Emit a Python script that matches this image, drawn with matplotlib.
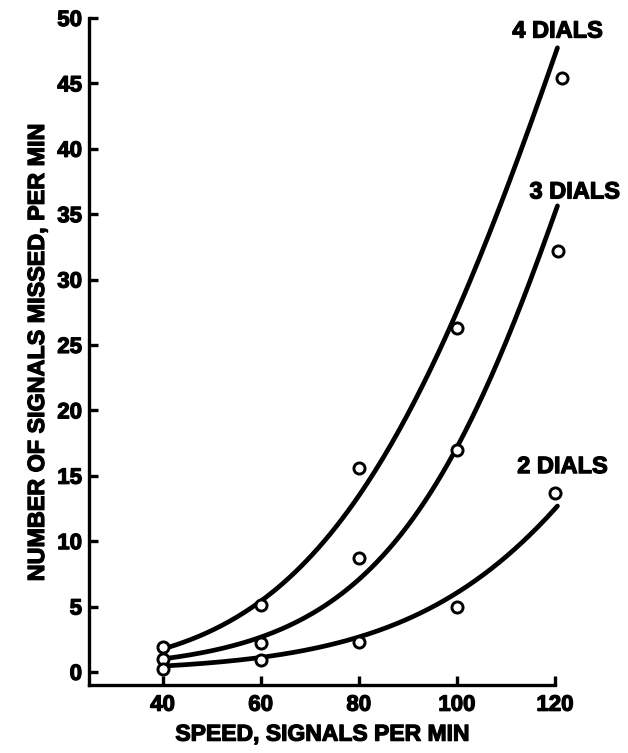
import numpy as np
import matplotlib
matplotlib.use("Agg")
import matplotlib.pyplot as plt
import matplotlib.patheffects as pe

plt.rcParams['font.family'] = ['Liberation Sans', 'DejaVu Sans']
plt.rcParams['font.weight'] = 'bold'

# Speed settings (signals per minute)
speeds = [40, 60, 80, 100, 120]

# Observed misses per minute (circles)
obs_4 = [1.9, 5.1, 15.6, 26.3, 45.4]
obs_3 = [1.0, 2.2, 8.7, 17.0, 32.2]
obs_2 = [0.2, 0.9, 2.3, 5.0, 13.7]
obs_x_4 = [40, 60, 80, 100, 121.5]
obs_x_3 = [40, 60, 80, 100, 120.7]
obs_x_2 = [40, 60, 80, 100, 120]

# Fitted trend values at each speed
fit_4 = [1.75, 5.4, 13.5, 27.5, 47.2]
fit_3 = [1.0, 2.6, 7.3, 16.8, 35.3]
fit_2 = [0.45, 1.1, 2.7, 6.0, 12.5]

series_labels = ["4 DIALS", "3 DIALS", "2 DIALS"]
label_pos = [(111.3, 49.0), (114.8, 36.7), (112.3, 15.7)]

y_ticks = [0, 5, 10, 15, 20, 25, 30, 35, 40, 45, 50]

# heavy print look for all lettering
heavy = [pe.withStroke(linewidth=0.9, foreground='black')]

fig = plt.figure(figsize=(6.28, 7.53), dpi=100)
ax = fig.add_axes([89 / 628, 1 - 685 / 753, (555 - 89) / 628, (685 - 18) / 753])


def smooth_curve(xs, ys, n=200):
    xs = np.asarray(xs, float)
    ly = np.log(np.asarray(ys, float))
    coef = np.polyfit(xs, ly, 3)
    xx = np.linspace(xs[0] + 1, xs[-1] + 0.5, n)
    return xx, np.exp(np.polyval(coef, xx))


for fit, ox, oy in [(fit_4, obs_x_4, obs_4), (fit_3, obs_x_3, obs_3), (fit_2, obs_x_2, obs_2)]:
    xx, yy = smooth_curve(speeds, fit)
    ax.plot(xx, yy, color='black', lw=3.4, solid_capstyle='round', clip_on=False, zorder=2)
    ax.plot(ox, oy, linestyle='none', marker='o', ms=8, mfc='white', mec='black',
            mew=2.1, clip_on=False, zorder=3)

for text, (tx, ty) in zip(series_labels, label_pos):
    ax.text(tx, ty, text, fontsize=17, fontweight='bold', ha='left', va='center',
            path_effects=heavy)

ax.set_xlim(25, 120)
ax.set_ylim(-1, 50)
ax.set_xticks(speeds)
ax.set_yticks(y_ticks)
ax.set_xticklabels([str(s) for s in speeds], fontsize=16, fontweight='bold')
ax.set_yticklabels([str(v) for v in y_ticks], fontsize=16, fontweight='bold')
for lab in ax.get_xticklabels() + ax.get_yticklabels():
    lab.set_path_effects(heavy)

for side in ['top', 'right']:
    ax.spines[side].set_visible(False)
for side in ['left', 'bottom']:
    ax.spines[side].set_linewidth(2.4)
    ax.spines[side].set_capstyle('projecting')

ax.tick_params(axis='both', direction='in', length=6.5, width=2.4, pad=5)
ax.tick_params(axis='x', pad=7)

ax.set_xlabel("SPEED, SIGNALS PER MIN", fontsize=16.5, fontweight='bold', labelpad=5,
              path_effects=heavy)
ax.set_ylabel("NUMBER OF SIGNALS MISSED, PER MIN", fontsize=16.8, fontweight='bold',
              labelpad=6, path_effects=heavy)

fig.savefig("out.png", dpi=100)
